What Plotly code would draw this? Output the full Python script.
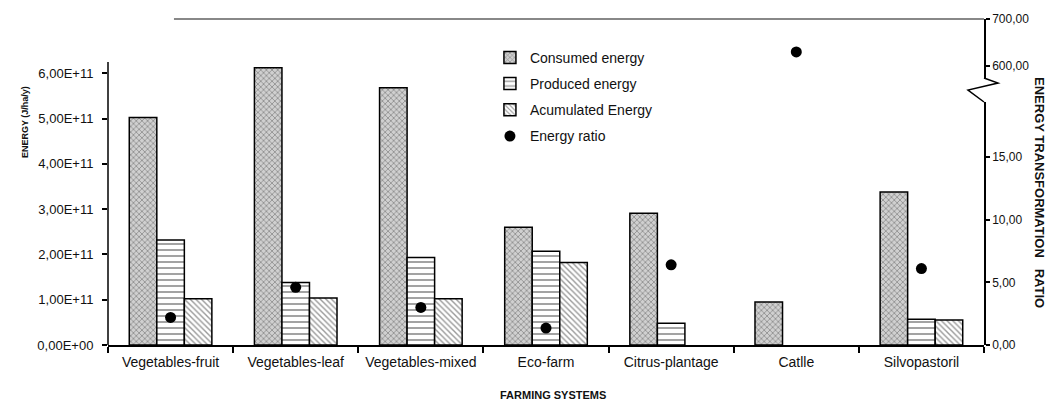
import plotly.graph_objects as go

categories = ["Vegetables-fruit", "Vegetables-leaf", "Vegetables-mixed", "Eco-farm",
              "Citrus-plantage", "Catlle", "Silvopastoril"]
consumed = [5.02e11, 6.12e11, 5.68e11, 2.60e11, 2.91e11, 0.95e11, 3.38e11]
produced = [2.32e11, 1.38e11, 1.93e11, 2.07e11, 0.48e11, None, 0.57e11]
accumulated = [1.02e11, 1.04e11, 1.02e11, 1.82e11, None, None, 0.55e11]
energy_ratio = [2.2, 4.6, 3.0, 1.35, 6.4, 630, 6.1]

left_ticks = [0, 1e11, 2e11, 3e11, 4e11, 5e11, 6e11]
left_ticktext = ["0,00E+00", "1,00E+11", "2,00E+11", "3,00E+11", "4,00E+11", "5,00E+11", "6,00E+11"]
low_ticks = [0, 5, 10, 15]
low_ticktext = ["0,00", "5,00", "10,00", "15,00"]
high_ticks = [600, 700]
high_ticktext = ["600,00", "700,00"]

BREAK = 100
ratio_low = [v if v is not None and v < BREAK else None for v in energy_ratio]
ratio_high = [v if v is not None and v >= BREAK else None for v in energy_ratio]

FONT = "Liberation Sans, Arial, sans-serif"
TXT = "#111111"

fig = go.Figure()
fig.add_trace(go.Bar(
    name="Consumed energy", x=categories, y=consumed, legendgroup="c",
    marker=dict(color="#d0d0d0", line=dict(color="black", width=1.5),
                pattern=dict(shape="x", size=4, solidity=0.4, fgcolor="#555555", bgcolor="#d0d0d0")),
))
fig.add_trace(go.Bar(
    name="Produced energy", x=categories, y=produced, legendgroup="p",
    marker=dict(color="white", line=dict(color="black", width=1.5),
                pattern=dict(shape="-", size=6, solidity=0.3, fgcolor="#333333", bgcolor="white")),
))
fig.add_trace(go.Bar(
    name="Acumulated Energy", x=categories, y=accumulated, legendgroup="a",
    marker=dict(color="white", line=dict(color="black", width=1.5),
                pattern=dict(shape="\\", size=4, solidity=0.35, fgcolor="#333333", bgcolor="white")),
))
fig.add_trace(go.Scatter(
    name="Energy ratio", x=categories, y=ratio_low, yaxis="y2", mode="markers",
    legendgroup="r", marker=dict(color="black", size=11, symbol="circle"),
))
fig.add_trace(go.Scatter(
    name="Energy ratio", x=categories, y=ratio_high, yaxis="y3", mode="markers",
    legendgroup="r", showlegend=False, marker=dict(color="black", size=11, symbol="circle"),
))

low_top = 0.7454
high_bot = 0.819

fig.update_layout(
    width=1058, height=403,
    margin=dict(l=108, r=74, t=19, b=58),
    paper_bgcolor="white", plot_bgcolor="rgba(0,0,0,0)",
    font=dict(family=FONT, color=TXT),
    barmode="group", bargap=0.34, bargroupgap=0,
    xaxis=dict(
        type="category", range=[-0.5, 6.5], showline=True, linecolor="black", linewidth=1.5,
        ticks="outside", tickson="boundaries", ticklen=6, tickcolor="black", tickwidth=1.5,
        ticklabelstandoff=3,
        tickfont=dict(size=14, color=TXT), showgrid=False, zeroline=False,
    ),
    yaxis=dict(
        range=[0, 7.197e11], showline=False, tickvals=left_ticks, ticktext=left_ticktext,
        ticks="outside", ticklen=5, tickcolor="black", tickwidth=1.5, ticklabelstandoff=6,
        tickfont=dict(size=13, color=TXT), showgrid=False, zeroline=False,
    ),
    yaxis2=dict(
        domain=[0, low_top], anchor="x", side="right", range=[0, 243 / 12.53],
        showline=True, linecolor="black", linewidth=1.5, tickvals=low_ticks, ticktext=low_ticktext,
        ticks="outside", ticklen=4, tickcolor="black", tickwidth=1.5,
        tickfont=dict(size=12, color=TXT), showgrid=False, zeroline=False,
    ),
    yaxis3=dict(
        domain=[high_bot, 1], anchor="x", side="right", range=[574.5, 700],
        showline=True, linecolor="black", linewidth=1.5, tickvals=high_ticks, ticktext=high_ticktext,
        ticks="outside", ticklen=4, tickcolor="black", tickwidth=1.5,
        tickfont=dict(size=12, color=TXT), showgrid=False, zeroline=False,
    ),
    legend=dict(
        x=0.436, y=0.93, xanchor="left", yanchor="top", bgcolor="rgba(0,0,0,0)",
        font=dict(size=14, color=TXT), traceorder="grouped", tracegroupgap=5,
        itemwidth=30,
    ),
    showlegend=True,
)

# left axis line (shorter than plot area)
fig.add_shape(type="line", xref="paper", yref="y", x0=0, x1=0, y0=0, y1=6.25e11,
              line=dict(color="black", width=1.5))
# top border line
fig.add_shape(type="line", xref="paper", yref="paper", x0=0.0753, x1=1, y0=1, y1=1,
              line=dict(color="#888888", width=2))
# axis break zigzag
fig.add_shape(type="path", xref="paper", yref="paper",
              path="M 1.0 0.7454 L 0.9817 0.782 L 1.016 0.8037 L 1.0 0.819",
              line=dict(color="black", width=1.5))

fig.add_annotation(text="<b>ENERGY (J/ha/y)</b>", xref="paper", yref="paper",
                   x=-0.0947, y=0.684, xanchor="center", yanchor="middle",
                   textangle=-90, showarrow=False, font=dict(size=9, color=TXT))
fig.add_annotation(text="<b>ENERGY TRANSFORMATION   RATIO</b>", xref="paper", yref="paper",
                   x=1.064, y=0.469, xanchor="center", yanchor="middle",
                   textangle=90, showarrow=False, font=dict(size=13, color=TXT))
fig.add_annotation(text="<b>FARMING SYSTEMS</b>", xref="paper", yref="paper",
                   x=0.508, y=-0.153, xanchor="center", yanchor="middle",
                   showarrow=False, font=dict(size=11, color=TXT))

fig.write_html("out.html", config={"displayModeBar": False},
               post_script="document.body.style.margin='0px';")
